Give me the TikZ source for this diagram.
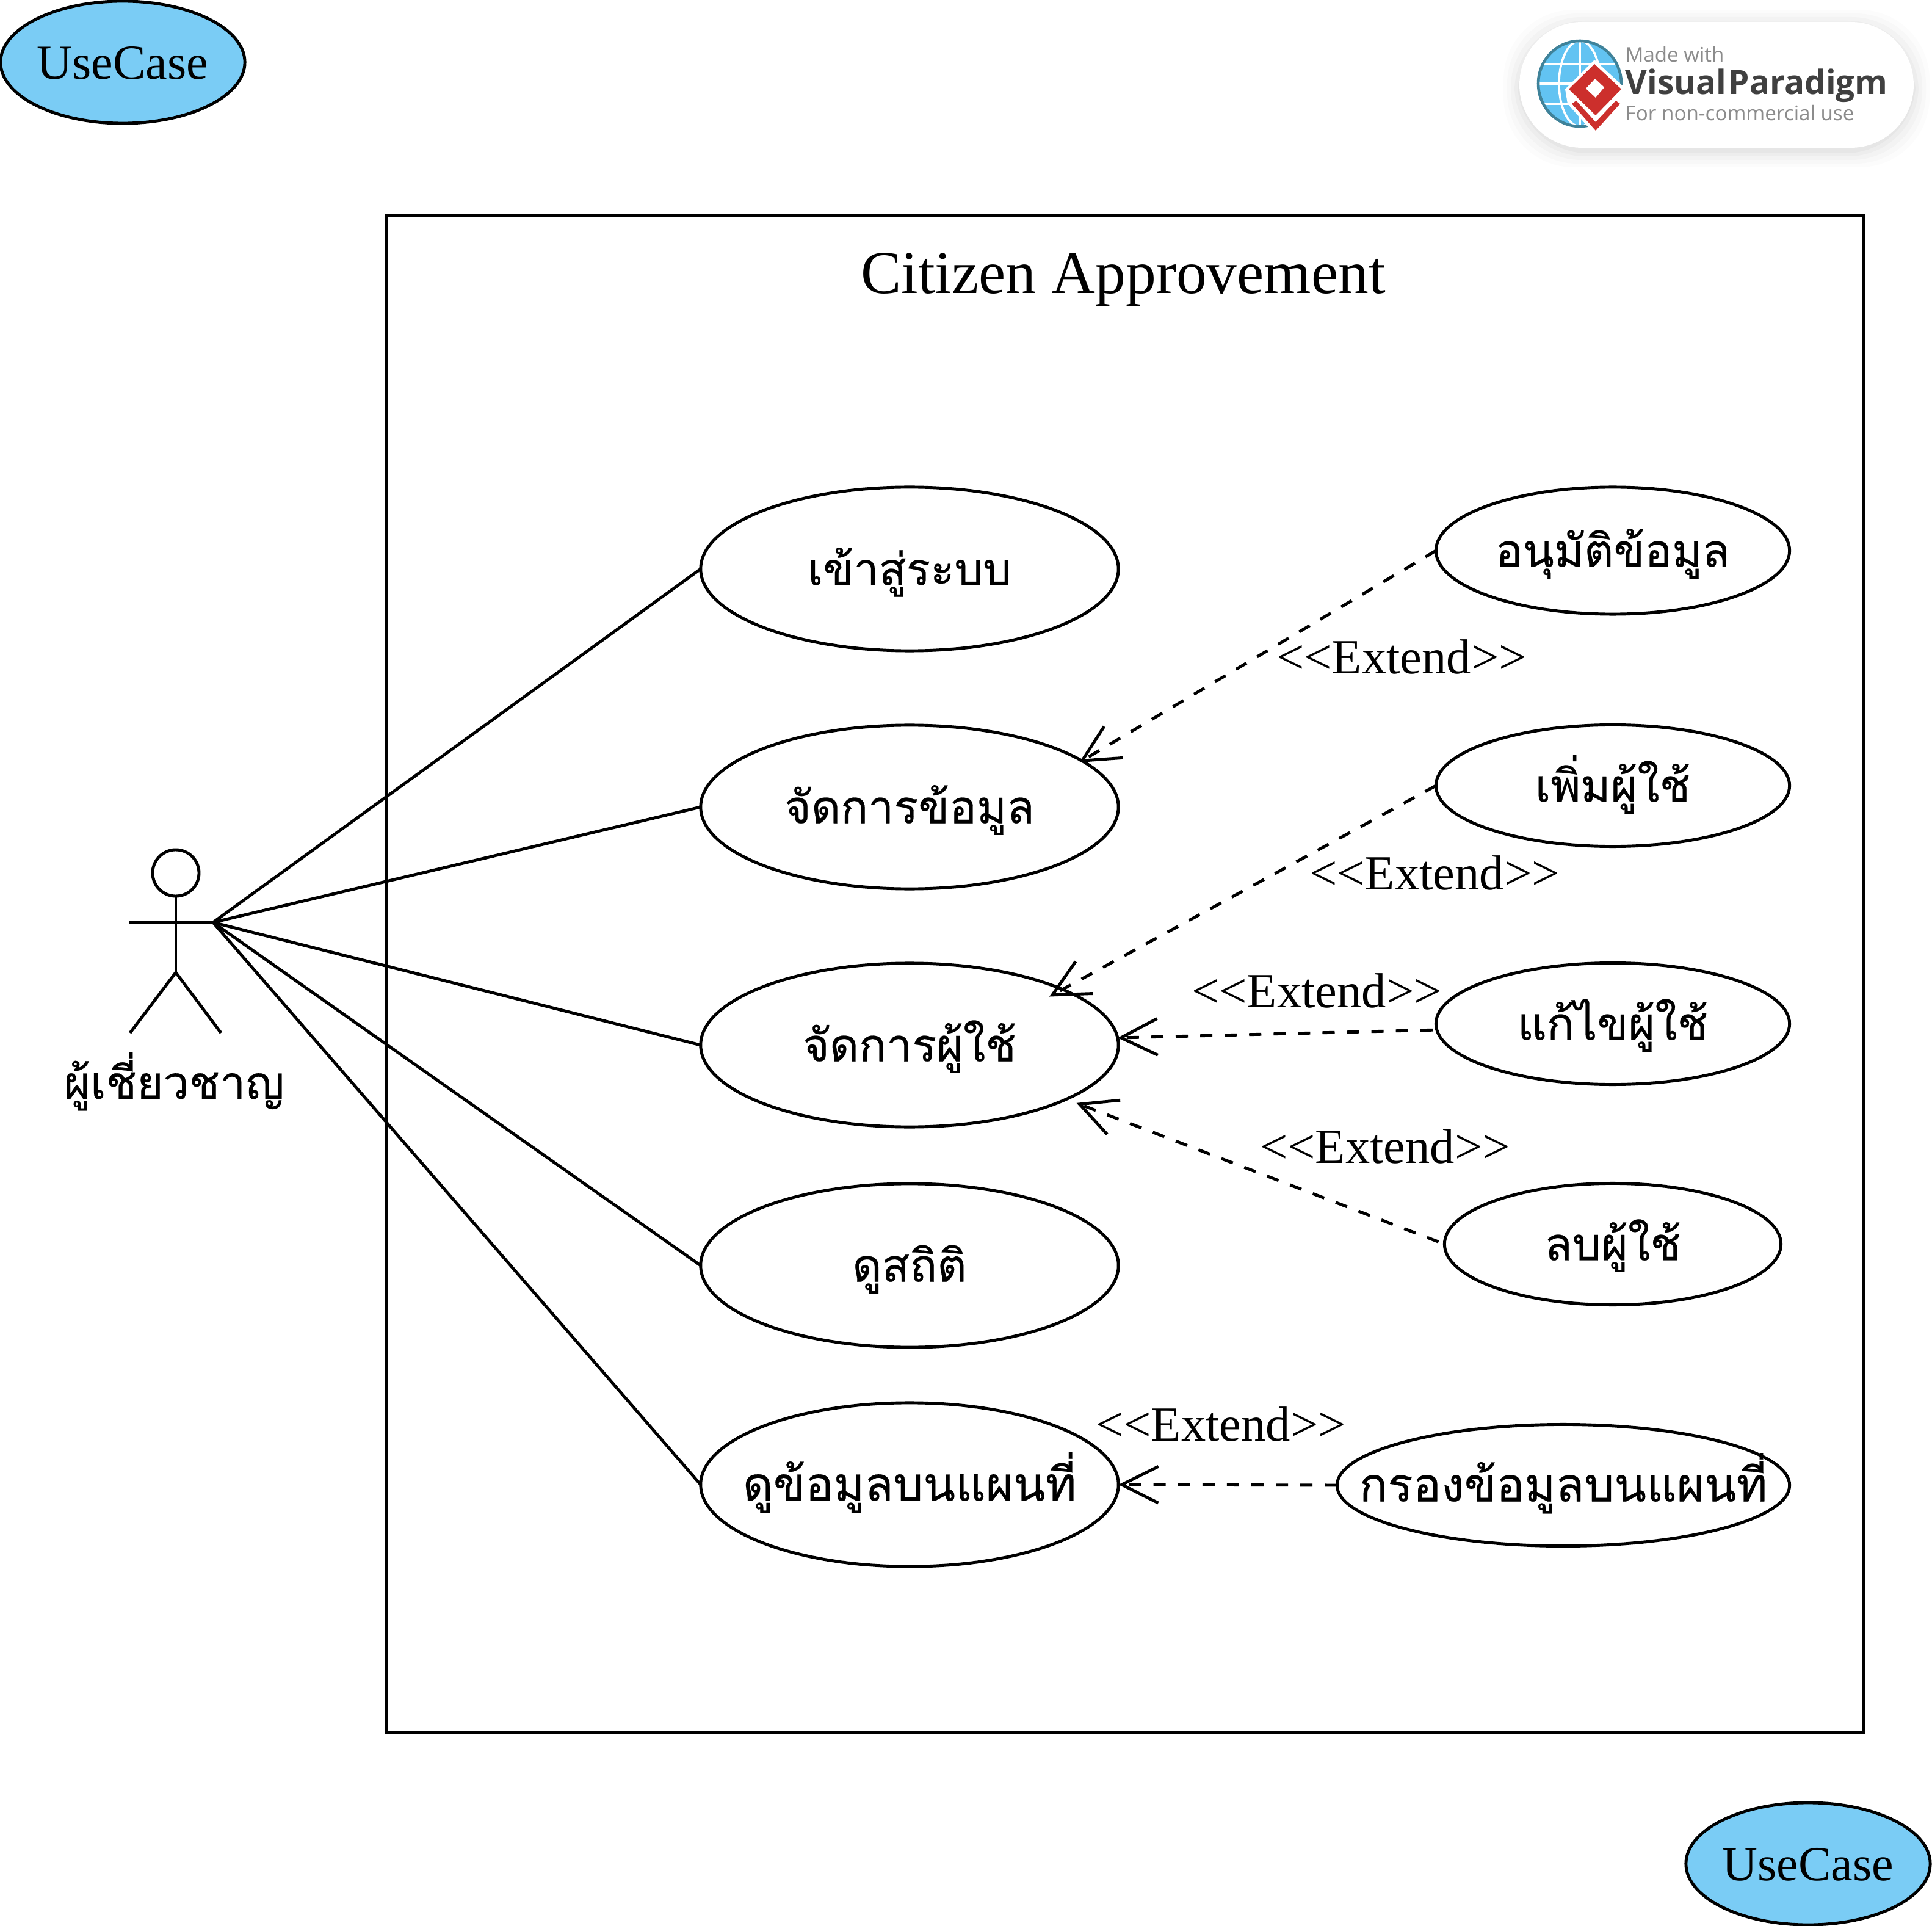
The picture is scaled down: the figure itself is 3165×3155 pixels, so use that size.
\documentclass[tikz,border=0pt]{standalone}
\usepackage{fontspec}
\setmainfont{Liberation Serif}
\newfontfamily\thaifont[Script=Thai,FakeBold=0.35]{Loma}
\newfontfamily\vpfont{Open Sans}
\usetikzlibrary{shapes.geometric,arrows.meta}
\definecolor{ucblue}{HTML}{7ACCF5}
\definecolor{globeblue}{HTML}{62C3F2}
\definecolor{globeedge}{HTML}{3F8299}
\definecolor{vpred}{HTML}{CC2F2C}
\newcommand{\uclabel}[2][21.2pt]{\smash{\makebox[0pt]{\raisebox{-7.5pt}{\thaifont\fontsize{#1}{25pt}\selectfont #2}}}}
\newcommand{\enlabel}[1]{\smash{\makebox[0pt]{\raisebox{-7.8pt}{\fontsize{22.8pt}{26pt}\selectfont #1}}}}
\tikzset{
  base/.style={line width=1.4pt,draw=black},
  usecase/.style={base,ellipse,inner sep=0pt,outer sep=0pt,fill=white},
  bigcase/.style={usecase,minimum width=6.84cm,minimum height=2.68cm},
  colored/.style={usecase,fill=ucblue,minimum width=4cm,minimum height=2cm},
  assoc/.style={base},
  extendline/.style={base,dash pattern=on 5.7pt off 5.7pt,-{Straight Barb[length=17pt,width=17pt]}},
  extendlabel/.style={inner sep=0pt,font=\fontsize{22.9pt}{26pt}\selectfont},
}
\begin{document}
\begin{tikzpicture}[x=0.01cm,y=-0.01cm]
\useasboundingbox (0,0) rectangle (3165,3155);
% logo
\foreach \g/\o in {26/0.012,20/0.016,14/0.02,8/0.025,3/0.03}{
  \fill[black,opacity=\o,rounded corners=1.15cm] (2489-\g,36-\g+6) rectangle (3135+\g,242+\g+6);
}
\fill[white,rounded corners=1.03cm] (2489,36) rectangle (3135,242);
\begin{scope}
  \clip (2588,137) ellipse [x radius=68,y radius=70];
  \fill[globeblue] (2520,67) rectangle (2656,207);
  \draw[white,line width=1pt] (2588,67) -- (2588,207);
  \draw[white,line width=1pt] (2588,137) ellipse [x radius=34,y radius=70];
  \draw[white,line width=1pt] (2520,105) -- (2656,105) (2520,137) -- (2656,137) (2520,170) -- (2656,170);
\end{scope}
\draw[globeedge,line width=1.3pt] (2588,137) ellipse [x radius=68,y radius=70];
\fill[white] (2612,98) -- (2664,146) -- (2660,172) -- (2614,222) -- (2568,170) -- (2564,146) -- cycle;
\fill[vpred] (2612,105) -- (2656,146) -- (2614,189) -- (2570,146) -- cycle;
\fill[white] (2613,129) -- (2628,143) -- (2614,160) -- (2598,145) -- cycle;
\fill[vpred] (2575,170) -- (2614,214) -- (2654,170) -- (2647,165) -- (2614,200) -- (2582,165) -- cycle;
\node[anchor=base west,inner sep=0pt,text=black!45,font=\vpfont\fontsize{9.4pt}{11pt}\selectfont] (vpmade) at (2662,102) {Made with};
\node[anchor=base west,inner sep=0pt,text=black!75,font=\vpfont\bfseries\fontsize{15.6pt}{18pt}\selectfont] (vpname) at (2662,155) {Visual\hspace{1pt}Paradigm};
\node[anchor=base west,inner sep=0pt,text=black!45,font=\vpfont\fontsize{9.45pt}{11pt}\selectfont] (vpfor) at (2662,198) {For non-commercial use};
% colored corner cases
\node[colored] (uctop) at (201,102) {\enlabel{UseCase}};
\node[colored] (ucbot) at (2962,3053) {\enlabel{UseCase}};
% boundary
\node[base,rectangle,inner sep=0pt,minimum width=24.19cm,minimum height=24.85cm] (system) at (1842.5,1595.5) {};
\node[inner sep=0pt,anchor=base,font=\fontsize{28.3pt}{32pt}\selectfont] (title) at (1840,481) {Citizen Approvement};
% actor
\node[base,circle,inner sep=0pt,minimum size=0.76cm] (head) at (288,1430) {};
\coordinate (waist) at (288,1593);
\coordinate (handl) at (212,1511);
\coordinate (handr) at (349,1511);
\coordinate (footl) at (213,1692);
\coordinate (footr) at (362,1692);
\draw[base] (head.south) -- (waist);
\draw[base] (handl) -- (handr);
\draw[base] (footl) -- (waist) -- (footr);
\node[inner sep=0pt,anchor=base,font=\thaifont\fontsize{21.2pt}{25pt}\selectfont] (actor) at (285,1800) {ผู้เชี่ยวชาญ};
% use cases
\node[bigcase] (login) at (1490,932) {\uclabel[20.9pt]{เข้าสู่ระบบ}};
\node[bigcase] (data) at (1490,1322) {\uclabel{จัดการข้อมูล}};
\node[bigcase] (users) at (1490,1712) {\uclabel{จัดการผู้ใช้}};
\node[bigcase] (stats) at (1490,2073) {\uclabel{ดูสถิติ}};
\node[bigcase] (map) at (1490,2432) {\uclabel[21.9pt]{ดูข้อมูลบนแผนที่}};
\node[usecase,minimum width=5.79cm,minimum height=2.08cm] (approve) at (2642,902) {\uclabel{อนุมัติข้อมูล}};
\node[usecase,minimum width=5.79cm,minimum height=1.99cm] (add) at (2642,1287) {\uclabel{เพิ่มผู้ใช้}};
\node[usecase,minimum width=5.79cm,minimum height=1.99cm] (edit) at (2642,1677) {\uclabel{แก้ไขผู้ใช้}};
\node[usecase,minimum width=5.51cm,minimum height=1.99cm] (del) at (2642,2038) {\uclabel{ลบผู้ใช้}};
\node[usecase,minimum width=7.41cm,minimum height=1.99cm] (filter) at (2561,2433) {\uclabel[21.9pt]{กรองข้อมูลบนแผนที่}};
% associations
\draw[assoc] (handr) -- (login.west);
\draw[assoc] (handr) -- (data.west);
\draw[assoc] (handr) -- (users.west);
\draw[assoc] (handr) -- (stats.west);
\draw[assoc] (handr) -- (map.west);
% extends
\draw[extendline,shorten >=-1.5pt] (approve.west) -- (data.15.5);
\draw[extendline,shorten >=-7pt] (add.west) -- (users.20.5);
\draw[extendline,shorten <=2pt] (edit.182) -- (users.2);
\draw[extendline,shorten <=3pt,shorten >=5pt] (del.west) -- (users.-19);
\draw[extendline] (filter.west) -- (map.east);
\node[extendlabel] (e1) at (2296,1076) {<{}<Extend>{}>};
\node[extendlabel] (e2) at (2350,1430) {<{}<Extend>{}>};
\node[extendlabel] (e3) at (2157,1623) {<{}<Extend>{}>};
\node[extendlabel] (e4) at (2269,1878) {<{}<Extend>{}>};
\node[extendlabel] (e5) at (2000,2333) {<{}<Extend>{}>};
\end{tikzpicture}
\end{document}
